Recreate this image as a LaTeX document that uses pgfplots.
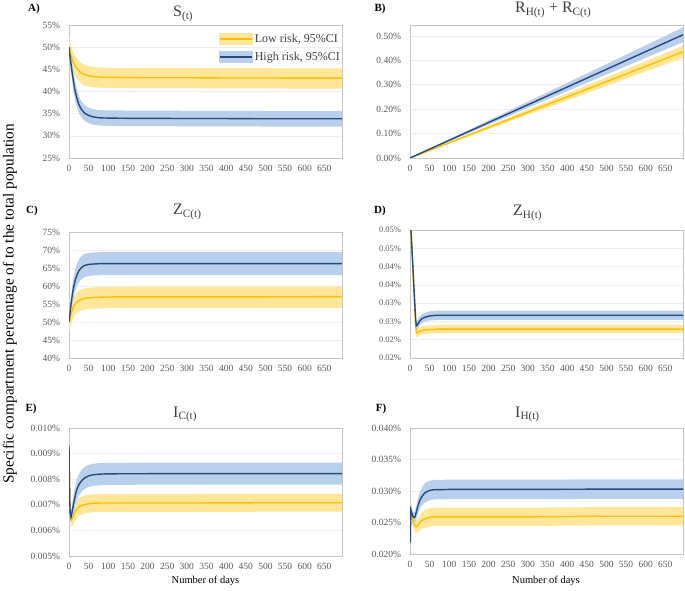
\documentclass[border=0pt]{standalone}
\usepackage{pgfplots}
\pgfplotsset{compat=1.18}
\usepackage{pgfplotstable}
\usepgfplotslibrary{fillbetween}
\usepackage{fontspec}
\setmainfont{Liberation Serif}

\definecolor{yline}{HTML}{FFC000}
\definecolor{yband}{HTML}{FFE699}
\definecolor{bline}{HTML}{254A7C}
\definecolor{bband}{HTML}{B8D0EC}
\definecolor{axisgray}{HTML}{C4C4C4}
\definecolor{gridgray}{HTML}{EEEEEE}
\definecolor{tickgray}{HTML}{595959}
\definecolor{titlegray}{HTML}{404040}

% columns: day, low risk (mean, lower, upper), high risk (mean, lower, upper)
\pgfplotstableread{
x ym ylo yhi bm blo bhi
0 50.0 49.3 52.5 50.0 49.5 50.5
2 49.2 48.0 51.6 48.3 47.3 49.3
4 48.5 46.9 50.8 46.9 45.5 48.3
6 47.9 46.0 50.1 45.6 43.9 47.3
8 47.3 45.2 49.5 44.3 42.4 46.2
10 46.8 44.6 49.0 43.1 41.1 45.1
13 46.2 43.9 48.4 41.4 39.3 43.5
16 45.7 43.4 47.9 39.9 37.8 42.0
20 45.2 42.9 47.4 38.5 36.5 40.5
25 44.7 42.35 46.9 37.1 35.2 39.0
30 44.3 41.9 46.5 36.2 34.4 38.0
35 44.0 41.6 46.2 35.6 33.8 37.4
40 43.8 41.4 46.0 35.1 33.35 36.85
50 43.55 41.15 45.7 34.6 32.85 36.35
60 43.4 41.0 45.55 34.3 32.55 36.05
70 43.3 40.9 45.45 34.15 32.4 35.9
80 43.25 40.85 45.4 34.05 32.3 35.8
100 43.2 40.8 45.35 34.0 32.25 35.75
150 43.15 40.8 45.3 33.95 32.2 35.7
200 43.1 40.75 45.3 33.95 32.2 35.7
300 43.1 40.75 45.3 33.9 32.15 35.65
400 43.05 40.7 45.25 33.9 32.15 35.65
500 43.05 40.7 45.25 33.85 32.1 35.6
600 43.0 40.65 45.2 33.85 32.1 35.6
695 43.0 40.65 45.2 33.85 32.1 35.6
}\tabS

\pgfplotstableread{
x ym ylo yhi bm blo bhi
0 0 0 0 0 0 0
50 0.0313 0.0295 0.0331 0.0363 0.0342 0.0385
100 0.0626 0.0590 0.0662 0.0727 0.0684 0.0770
200 0.1252 0.1180 0.1324 0.1453 0.1367 0.1539
300 0.1878 0.1770 0.1986 0.2180 0.2051 0.2309
400 0.2504 0.2360 0.2648 0.2906 0.2733 0.3079
500 0.3129 0.2949 0.3309 0.3633 0.3417 0.3849
600 0.3755 0.3539 0.3971 0.4360 0.4101 0.4619
695 0.4350 0.4100 0.4600 0.5050 0.4750 0.5350
}\tabR

\pgfplotstableread{
x ym ylo yhi bm blo bhi
0 50.0 47.4 50.3 50.0 49.5 50.5
2 50.9 48.2 51.8 52.0 50.8 53.2
4 51.7 48.9 53.1 53.9 52.1 55.7
6 52.5 49.7 54.3 55.6 53.4 57.8
8 53.2 50.3 55.3 57.2 54.7 59.7
10 53.8 50.9 56.1 58.6 55.9 61.3
13 54.5 51.6 57.0 60.3 57.4 63.2
16 55.0 52.05 57.6 61.7 58.7 64.7
20 55.5 52.5 58.2 63.0 59.9 66.1
25 55.9 52.9 58.65 64.2 61.05 67.35
30 56.2 53.15 59.0 64.9 61.7 68.1
35 56.4 53.35 59.2 65.4 62.2 68.6
40 56.55 53.45 59.35 65.7 62.5 68.9
50 56.7 53.6 59.5 66.0 62.8 69.2
60 56.8 53.7 59.6 66.1 62.9 69.3
70 56.85 53.75 59.65 66.15 62.95 69.35
80 56.9 53.8 59.7 66.2 63.0 69.4
100 56.95 53.85 59.75 66.2 63.0 69.4
150 57.0 53.9 59.8 66.2 63.0 69.4
300 57.0 53.9 59.8 66.2 63.0 69.4
500 57.0 53.9 59.8 66.2 63.0 69.4
695 57.05 53.95 59.85 66.2 63.0 69.4
}\tabZC

\pgfplotstableread{
x ym ylo yhi bm blo bhi
0 0.0550 0.0535 0.0565 0.0550 0.0535 0.0565
2 0.0510 0.0495 0.0525 0.0510 0.0495 0.0525
4 0.0466 0.0451 0.0481 0.0469 0.0454 0.0484
6 0.0422 0.0407 0.0437 0.0427 0.0412 0.0442
8 0.0378 0.0363 0.0393 0.0386 0.0371 0.0401
10 0.0334 0.0320 0.0348 0.0344 0.0329 0.0359
12 0.0290 0.0277 0.0303 0.0302 0.0288 0.0316
14 0.0247 0.0235 0.0259 0.0262 0.0249 0.0275
16 0.0219 0.0208 0.0230 0.0238 0.0226 0.0250
18 0.0218 0.0207 0.0229 0.0239 0.0227 0.0251
20 0.0220 0.0209 0.0231 0.0243 0.0231 0.0255
25 0.0223 0.0212 0.0234 0.0252 0.0240 0.0264
30 0.0225 0.0214 0.0236 0.0257 0.0245 0.0269
35 0.0226 0.0215 0.0237 0.0260 0.0248 0.0272
40 0.0227 0.0216 0.0238 0.0262 0.0250 0.0274
50 0.0228 0.0217 0.0239 0.0265 0.02525 0.02775
60 0.0228 0.0217 0.0239 0.0266 0.02535 0.02785
70 0.0229 0.0218 0.0240 0.0267 0.02545 0.02795
100 0.0229 0.0218 0.0240 0.0267 0.02545 0.02795
300 0.0229 0.0218 0.0240 0.0267 0.02545 0.02795
500 0.0229 0.0218 0.0240 0.0267 0.02545 0.02795
695 0.0229 0.0218 0.0240 0.0267 0.02545 0.02795
}\tabZH

\pgfplotstableread{
x ym ylo yhi bm blo bhi
0 0.00930 0.00880 0.00980 0.00930 0.00860 0.01000
1 0.00800 0.00760 0.00840 0.00800 0.00750 0.00850
2 0.00710 0.00675 0.00745 0.00710 0.00670 0.00750
3 0.00670 0.00637 0.00703 0.00668 0.00640 0.00696
5 0.00648 0.00618 0.00678 0.00652 0.00632 0.00672
7 0.00643 0.00613 0.00673 0.00665 0.00640 0.00690
10 0.00652 0.00621 0.00683 0.00690 0.00660 0.00720
13 0.00664 0.00632 0.00696 0.00715 0.00680 0.00750
16 0.00674 0.00641 0.00707 0.00738 0.00700 0.00776
20 0.00683 0.00649 0.00717 0.00760 0.00720 0.00800
25 0.00691 0.00656 0.00726 0.00778 0.00736 0.00820
30 0.00696 0.00661 0.00731 0.00790 0.00747 0.00833
35 0.00699 0.00664 0.00734 0.00798 0.00755 0.00841
40 0.00701 0.00666 0.00736 0.00805 0.00762 0.00848
50 0.00704 0.00669 0.00739 0.00813 0.00770 0.00856
60 0.00706 0.00671 0.00741 0.00817 0.00774 0.00860
80 0.00707 0.00672 0.00742 0.00820 0.00777 0.00863
100 0.00707 0.00672 0.00742 0.00821 0.00778 0.00864
300 0.00707 0.00672 0.00742 0.00822 0.00779 0.00865
500 0.00708 0.00673 0.00743 0.00822 0.00779 0.00865
695 0.00708 0.00673 0.00743 0.00822 0.00779 0.00865
}\tabIC

\pgfplotstableread{
x ym ylo yhi bm blo bhi
0 0.0235 0.0231 0.0239 0.0235 0.0230 0.0240
0.7 0.0222 0.0218 0.0226 0.0218 0.0212 0.0224
2 0.0268 0.0260 0.0276 0.0270 0.0258 0.0282
4 0.0264 0.0256 0.0272 0.0266 0.0255 0.0277
6 0.0258 0.0250 0.0266 0.0262 0.0253 0.0271
8 0.0252 0.0243 0.0261 0.0259 0.0251 0.0267
10 0.0248 0.0239 0.0257 0.0258 0.0250 0.0266
13 0.0244 0.0234 0.0254 0.0259 0.0250 0.0268
15 0.0243 0.0233 0.0253 0.0264 0.0254 0.0274
18 0.0244 0.0233 0.0255 0.0271 0.0260 0.0282
20 0.0246 0.0235 0.0257 0.0276 0.0264 0.0288
25 0.0250 0.0238 0.0262 0.0285 0.0272 0.0298
30 0.0253 0.0240 0.0266 0.0291 0.0277 0.0305
35 0.0255 0.0241 0.0269 0.0295 0.0280 0.0310
40 0.0256 0.02415 0.02705 0.0298 0.02825 0.03135
50 0.0258 0.02435 0.02725 0.0301 0.02855 0.03165
60 0.0259 0.02445 0.02735 0.0302 0.02865 0.03175
100 0.0259 0.02445 0.02735 0.03025 0.0287 0.0318
300 0.0259 0.02445 0.02735 0.03025 0.0287 0.0318
500 0.0260 0.02455 0.02745 0.0303 0.02875 0.03185
695 0.0260 0.02455 0.02745 0.0303 0.02875 0.03185
}\tabIH

\pgfplotsset{
  panel/.style={
    scale only axis, width=273pt,
    xmin=0, xmax=695,
    xtick={0,50,...,650},
    scaled y ticks=false,
    /pgf/number format/assume math mode=true,
    axis line style={axisgray, line width=0.8pt},
    major tick length=0pt,
    ymajorgrids, grid style={gridgray, line width=0.6pt},
    ticklabel style={font=\rmfamily\fontsize{9.5}{11}\selectfont, text=tickgray},
    yticklabel style={xshift=-5.5pt},
    xticklabel style={yshift=-4pt},
  },
}

% both bands, then both lines
\newcommand{\drawseries}[1]{%
  \addplot[draw=none, name path=ylo, forget plot] table[x=x, y=ylo] {#1};
  \addplot[draw=none, name path=yhi, forget plot] table[x=x, y=yhi] {#1};
  \addplot[yband, forget plot] fill between[of=yhi and ylo];
  \addplot[draw=none, name path=blo, forget plot] table[x=x, y=blo] {#1};
  \addplot[draw=none, name path=bhi, forget plot] table[x=x, y=bhi] {#1};
  \addplot[bband, forget plot] fill between[of=bhi and blo];
  \addplot[yline, line width=1.4pt,
    legend image code/.code={\fill[yband] (0pt,-5.5pt) rectangle (32pt,5.5pt);
      \draw[yline, line width=1.4pt] (0pt,0pt) -- (32pt,0pt);}]
    table[x=x, y=ym] {#1};
  \addplot[bline, line width=1.4pt,
    legend image code/.code={\fill[bband] (0pt,-5.5pt) rectangle (32pt,5.5pt);
      \draw[bline, line width=1.4pt] (0pt,0pt) -- (32pt,0pt);}]
    table[x=x, y=bm] {#1};
}

\begin{document}
\begin{tikzpicture}[x=1pt, y=1pt]
\path (0,0) rectangle (685,590);

% A
\begin{axis}[panel, at={(69pt,432pt)}, anchor=south west, height=133pt,
  ymin=25, ymax=55, ytick={25,30,...,55},
  yticklabels={25\%,30\%,35\%,40\%,45\%,50\%,55\%},
  legend style={at={(1,1)}, anchor=north east, yshift=-7pt, draw=none, fill=none,
    font=\fontsize{12}{14}\selectfont, text=titlegray, inner sep=0pt, row sep=4pt},
  legend cell align=left]
\drawseries{\tabS}
\legend{{Low risk, 95\%CI},{High risk, 95\%CI}}
\end{axis}

% B
\begin{axis}[panel, at={(410pt,432pt)}, anchor=south west, height=133pt,
  ymin=0, ymax=0.545, ytick={0,0.1,0.2,0.3,0.4,0.5},
  yticklabels={0.00\%,0.10\%,0.20\%,0.30\%,0.40\%,0.50\%}]
\drawseries{\tabR}
\end{axis}

% C
\begin{axis}[panel, at={(69pt,232pt)}, anchor=south west, height=126pt,
  ymin=40, ymax=75, ytick={40,45,...,75},
  yticklabels={40\%,45\%,50\%,55\%,60\%,65\%,70\%,75\%}]
\drawseries{\tabZC}
\end{axis}

% D
\begin{axis}[panel, at={(410pt,232pt)}, anchor=south west, height=128pt,
  ymin=0.015, ymax=0.05,
  ytick={0.015,0.02,0.025,0.03,0.035,0.04,0.045,0.05},
  yticklabels={0.02\%,0.02\%,0.03\%,0.03\%,0.04\%,0.04\%,0.05\%,0.05\%},
  yticklabel style={font=\rmfamily\fontsize{8.5}{10}\selectfont}]
\drawseries{\tabZH}
\end{axis}

% E
\begin{axis}[panel, at={(69pt,34pt)}, anchor=south west, height=128pt,
  ymin=0.005, ymax=0.010,
  ytick={0.005,0.006,0.007,0.008,0.009,0.010},
  yticklabels={0.005\%,0.006\%,0.007\%,0.008\%,0.009\%,0.010\%}]
\drawseries{\tabIC}
\end{axis}

% F
\begin{axis}[panel, at={(410pt,36pt)}, anchor=south west, height=126pt,
  ymin=0.02, ymax=0.04,
  ytick={0.02,0.025,0.03,0.035,0.04},
  yticklabels={0.020\%,0.025\%,0.030\%,0.035\%,0.040\%}]
\drawseries{\tabIH}
\end{axis}

% titles and panel letters
\begin{scope}[every node/.style={inner sep=0pt, text=titlegray, font=\fontsize{16}{18}\selectfont}]
\node[anchor=base west] at (173,573.5) {S\textsubscript{(t)}};
\node[anchor=base west] at (515,577.3) {R\textsubscript{H(t)} + R\textsubscript{C(t)}};
\node[anchor=base west] at (173,375) {Z\textsubscript{C(t)}};
\node[anchor=base west] at (513,374) {Z\textsubscript{H(t)}};
\node[anchor=base west] at (173,172.7) {I\textsubscript{C(t)}};
\node[anchor=base west] at (515,172.7) {I\textsubscript{H(t)}};
\end{scope}
\begin{scope}[every node/.style={inner sep=0pt, font=\fontsize{11}{13}\selectfont\bfseries}]
\node at (34,581) {A)};
\node at (380,581) {B)};
\node at (32,379) {C)};
\node at (380,379) {D)};
\node at (31,181) {E)};
\node at (381,181) {F)};
\end{scope}
\node[rotate=90, inner sep=0pt, font=\fontsize{15.3}{17}\selectfont] at (10,286)
  {Specific compartment percentage of to the total population};
\node[inner sep=0pt, font=\fontsize{10.5}{12}\selectfont] at (205.5,9) {Number of days};
\node[inner sep=0pt, font=\fontsize{10.5}{12}\selectfont] at (546,9) {Number of days};
\end{tikzpicture}
\end{document}
